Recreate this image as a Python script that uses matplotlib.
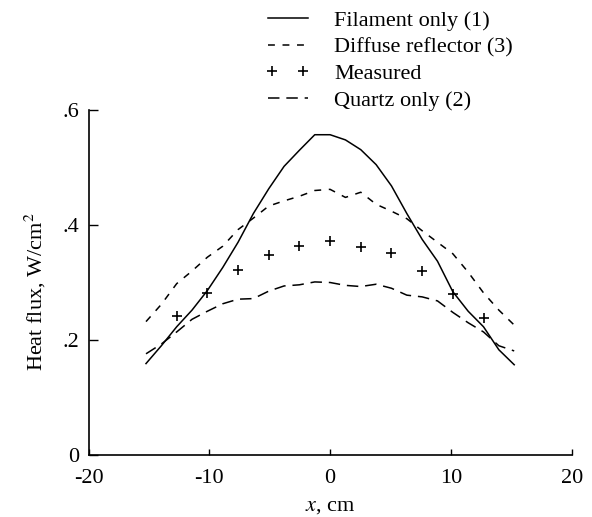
import matplotlib

matplotlib.use("Agg")
import matplotlib.pyplot as plt
from matplotlib.legend_handler import HandlerLine2D

# half-inch grid the model curves were computed on
x_model = [-15.24, -13.97, -12.70, -11.43, -10.16, -8.89, -7.62, -6.35, -5.08, -3.81, -2.54, -1.27, 0.0,
           1.27, 2.54, 3.81, 5.08, 6.35, 7.62, 8.89, 10.16, 11.43, 12.70, 13.97, 15.24]
filament = [0.159, 0.190, 0.223, 0.252, 0.286, 0.326, 0.370, 0.420, 0.463, 0.502, 0.530, 0.557, 0.557,
            0.548, 0.531, 0.505, 0.468, 0.420, 0.375, 0.337, 0.284, 0.250, 0.223, 0.183, 0.157]
diffuse = [0.232, 0.262, 0.298, 0.320, 0.344, 0.363, 0.392, 0.412, 0.433, 0.442, 0.450, 0.460, 0.462,
           0.448, 0.457, 0.436, 0.424, 0.411, 0.390, 0.370, 0.350, 0.318, 0.282, 0.252, 0.226]
quartz = [0.176, 0.193, 0.214, 0.236, 0.250, 0.263, 0.271, 0.272, 0.285, 0.294, 0.296, 0.301, 0.300,
          0.295, 0.293, 0.297, 0.290, 0.278, 0.275, 0.268, 0.248, 0.230, 0.214, 0.190, 0.181]

x_meas = [-12.70, -10.16, -7.62, -5.08, -2.54, 0.0, 2.54, 5.08, 7.62, 10.16, 12.70]
measured = [0.241, 0.281, 0.321, 0.348, 0.364, 0.372, 0.362, 0.351, 0.320, 0.280, 0.238]

x_ticks = [-20, -10, 0, 10, 20]
y_ticks = [0, 0.2, 0.4, 0.6]
y_tick_labels = ["0", ".2", ".4", ".6"]

plt.rcParams["font.family"] = ["Liberation Serif", "DejaVu Serif"]
plt.rcParams["mathtext.fontset"] = "stix"
plt.rcParams["axes.unicode_minus"] = False
plt.rcParams["font.size"] = 16

fig = plt.figure(figsize=(5.92, 5.17), dpi=100)
ax = fig.add_axes([88.5 / 592, 62 / 517, 483.2 / 592, 345 / 517])

ax.plot(x_model, filament, color="black", lw=1.1, label="Filament only (1)")
ax.plot(x_model, diffuse, color="black", lw=1.1, linestyle=(0, (4.5, 5.0)), label="Diffuse reflector (3)")
meas_line, = ax.plot(x_meas, measured, linestyle="none", marker="+", color="black", markersize=7,
                     markeredgewidth=1.2, label="Measured")
ax.plot(x_model, quartz, color="black", lw=1.1, linestyle=(0, (7.5, 4.5)), label="Quartz only (2)")

ax.set_xlim(-20, 20)
ax.set_ylim(0, 0.6)
ax.set_xticks(x_ticks)
ax.set_yticks(y_ticks)
ax.set_yticklabels(y_tick_labels)
ax.spines["top"].set_visible(False)
ax.spines["right"].set_visible(False)
for side in ("left", "bottom"):
    ax.spines[side].set_linewidth(1.2)
ax.tick_params(axis="x", direction="in", length=4, width=1.0, pad=10)
ax.tick_params(axis="y", direction="in", length=6.5, width=1.0, pad=7)

fig.text(330 / 592, 1 - 506 / 517, "$x$, cm", ha="center", va="center")
fig.text(35 / 592, 1 - 292 / 517, "Heat flux, W/cm$^2$", ha="center", va="center", rotation=90)

fig.legend(loc="upper left", bbox_to_anchor=(261 / 592, 1 - 10 / 517), frameon=False,
           handlelength=2.4, handletextpad=0.9, labelspacing=0.28, numpoints=2,
           borderpad=0, borderaxespad=0,
           handler_map={meas_line: HandlerLine2D(marker_pad=0.5, numpoints=2)})

fig.savefig("out.png", dpi=100)
